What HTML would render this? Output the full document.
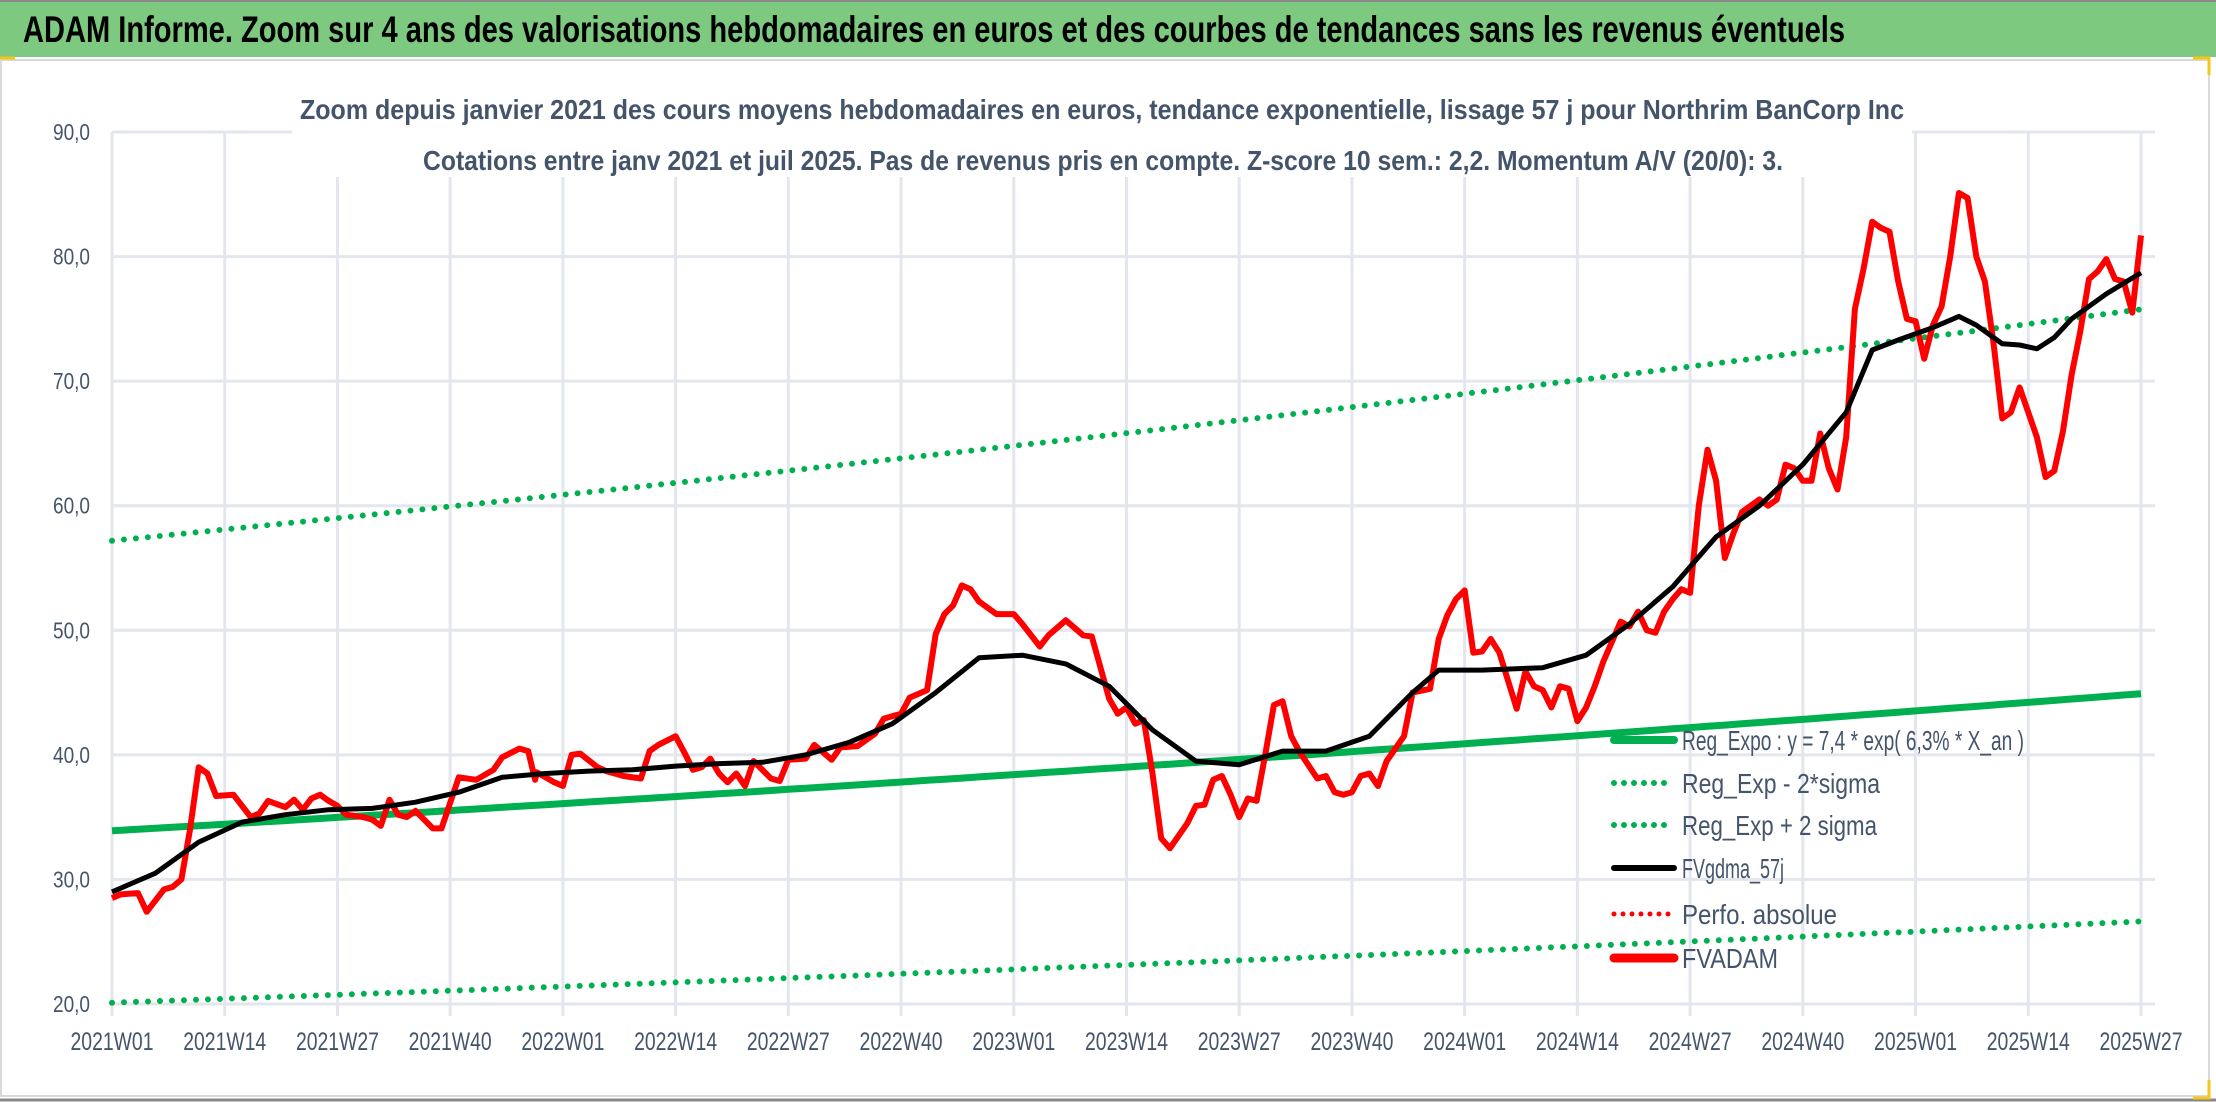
<!DOCTYPE html>
<html><head><meta charset="utf-8"><style>
html,body{margin:0;padding:0;background:#fff}
svg{display:block}
text{font-family:"Liberation Sans Narrow","Liberation Sans",sans-serif}
</style></head><body>
<svg id="chart" xmlns="http://www.w3.org/2000/svg" width="2216" height="1102" viewBox="0 0 2216 1102">
<rect x="0" y="0" width="2216" height="1102" fill="#fff"/>
<rect x="0" y="0" width="2216" height="57" fill="#7DC97F"/>
<rect x="1" y="60" width="2208" height="1036" fill="none" stroke="#d9d9d9" stroke-width="2"/>
<line x1="0" y1="1100" x2="2216" y2="1100" stroke="#888" stroke-width="3"/>
<line x1="0" y1="1" x2="2216" y2="1" stroke="#888" stroke-width="2"/>
<line x1="0" y1="58" x2="15" y2="58" stroke="#F5C518" stroke-width="3"/>
<path d="M2193 58 H2209 V75" fill="none" stroke="#F5C518" stroke-width="3"/>
<path d="M2193 1098 H2209 V1080" fill="none" stroke="#F5C518" stroke-width="3"/>
<text x="23" y="42" font-size="37" font-weight="bold" fill="#000" textLength="1822" lengthAdjust="spacingAndGlyphs">ADAM Informe. Zoom sur 4 ans des valorisations hebdomadaires en euros et des courbes de tendances sans les revenus éventuels</text>
<g id="grid"></g>
<g id="axes"></g>
<rect x="292" y="62" width="1620" height="115" fill="#fff"/>
<text x="1102" y="119" text-anchor="middle" font-size="28" font-weight="bold" fill="#44546A" textLength="1604" lengthAdjust="spacingAndGlyphs">Zoom depuis janvier 2021 des cours moyens hebdomadaires en euros, tendance exponentielle, lissage 57 j pour Northrim BanCorp Inc</text>
<text x="1103" y="170" text-anchor="middle" font-size="28" font-weight="bold" fill="#44546A" textLength="1360" lengthAdjust="spacingAndGlyphs">Cotations entre janv 2021 et juil 2025. Pas de revenus pris en compte. Z-score 10 sem.: 2,2. Momentum A/V (20/0): 3.</text>
<g id="series"></g>
<g id="legend"></g>
</svg>
<script>
const yTicks=[20,30,40,50,60,70,80,90];
const xLabels=["2021W01","2021W14","2021W27","2021W40","2022W01","2022W14","2022W27","2022W40","2023W01","2023W14","2023W27","2023W40","2024W01","2024W14","2024W27","2024W40","2025W01","2025W14","2025W27"];
const totalWeeks=234;
const regParams=[33.9,0.0625];
const bandFactors=[0.593,1.687];
const redWeeks=[0,1,3,4,6,7,8,9,10,11,12,14,16,17,18,20,21,22,23,24,25,26,27,29,30,31,32,33,34,35,37,38,40,42,44,45,47,48,48.8,49,51,52,53,54,56,57,59,61,62,63,65,66,67,68,69,70,71,72,73,74,76,77,78,80,81,83,84,86,88,89,91,92,94,95,96,97,98,99,100,102,103,104,105,107,108,110,111,112,113,115,116,117,118,119,120,121,122,124,125,126,127,128,129,130,131,132,133,134,135,136,137,139,140,141,142,143,144,145,146,147,149,150,152,153,154,155,156,157,158,159,160,162,163,164,165,166,167,168,169,170,171,172,174,175,176,177,178,179,180,181,182,183,184,185,186,187,188,190,191,192,193,194,195,196,197,198,199,200,201,202,203,204,205,206,207,208,209,210,211,212,213,214,215,216,217,218,219,220,222,223,224,225,226,227,228,229,230,231,232,233,234];
const redValues=[28.5,28.8,28.9,27.4,29.2,29.4,30,34,39,38.5,36.7,36.8,35,35.3,36.3,35.8,36.4,35.6,36.5,36.8,36.3,35.9,35.2,35,34.8,34.3,36.4,35.2,35,35.5,34.1,34.1,38.2,38,38.8,39.8,40.5,40.3,38,38.6,37.8,37.5,40,40.1,39,38.7,38.3,38.1,40.3,40.8,41.5,40.2,38.8,39,39.7,38.5,37.8,38.5,37.5,39.5,38.1,37.9,39.6,39.7,40.8,39.6,40.6,40.7,41.7,42.9,43.3,44.6,45.2,49.7,51.3,52,53.6,53.3,52.3,51.3,51.3,51.3,50.5,48.7,49.6,50.8,50.2,49.6,49.5,44.5,43.3,43.8,42.5,42.8,38.5,33.3,32.5,34.5,35.9,36,38,38.3,36.8,35,36.5,36.3,40,44,44.3,41.5,40.2,38.1,38.3,37,36.8,37,38.3,38.5,37.5,39.5,41.5,45,45.3,49.3,51.2,52.5,53.2,48.2,48.3,49.3,48.2,43.7,46.7,45.5,45.2,43.8,45.5,45.3,42.7,43.8,45.5,47.5,50.7,50.3,51.5,50,49.8,51.5,52.5,53.3,53,60,64.5,62,55.8,57.8,59.5,60.5,60,60.5,63.3,63,62,62,65.8,63,61.3,65.5,75.8,79,82.8,82.3,82,78,75,74.8,71.8,74.5,76,80,85.1,84.7,80,78,73,67,67.5,69.5,65.5,62.3,62.8,66,70.5,74,78.2,78.8,79.8,78.2,78,75.5,81.7];
const blackWeeks=[0,5,10,15,20,25,30,35,40,45,50,55,60,65,70,75,80,85,90,95,100,105,110,115,120,125,130,135,140,145,150,153,158,165,170,175,180,185,190,195,200,203,206,210,213,215,218,220,222,224,226,230,234];
const blackValues=[29,30.5,33,34.6,35.2,35.6,35.7,36.2,37,38.2,38.5,38.7,38.8,39.1,39.3,39.4,40,41,42.5,45,47.8,48,47.3,45.5,42,39.5,39.2,40.3,40.3,41.5,45,46.8,46.8,47,48,50.5,53.5,57.5,60,63.3,67.5,72.5,73.3,74.3,75.2,74.5,73,72.9,72.6,73.5,75,77,78.7];

const NS="http://www.w3.org/2000/svg";
const L=112,R=2141,T=132,B=1004;
const xs=w=>L+w*(R-L)/totalWeeks;
const ys=v=>B-(v-20)*(B-T)/70;
function mk(tag,attrs,parent){const e=document.createElementNS(NS,tag);for(const k in attrs)e.setAttribute(k,attrs[k]);parent.appendChild(e);return e;}
const grid=document.getElementById('grid'),axes=document.getElementById('axes'),series=document.getElementById('series'),legend=document.getElementById('legend');
yTicks.forEach(v=>{
 const l=mk('line',{x1:L,x2:R+14,y1:ys(v),y2:ys(v),stroke:'#E3E6EC','stroke-width':3},grid);
 
 
 const t=mk('text',{x:90,y:ys(v)+8,'text-anchor':'end','font-size':23,fill:'#44546A',textLength:37,lengthAdjust:'spacingAndGlyphs'},axes);
 t.textContent=v.toFixed(1).replace('.',',');
 
 
});
xLabels.forEach((s,i)=>{
 const x=xs(i*13);
 const l=mk('line',{x1:x,x2:x,y1:T,y2:B+12,stroke:'#E3E6EC','stroke-width':3},grid);
 
 
 const t=mk('text',{x:x,y:1050,'text-anchor':'middle','font-size':25,fill:'#44546A',textLength:83,lengthAdjust:'spacingAndGlyphs'},axes);
 t.textContent=s;
 
 
});
function reg(w,f){return regParams[0]*f*Math.exp(regParams[1]*w/52);}
function regPath(f){let d='';for(let w=0;w<=totalWeeks;w+=2){d+=(w?'L':'M')+xs(w).toFixed(1)+' '+ys(reg(w,f)).toFixed(1);}return d;}
const lo=mk('path',{d:regPath(bandFactors[0]),fill:'none',stroke:'#00B050','stroke-width':6,'stroke-linecap':'round','stroke-dasharray':'0 12'},series);


const hi=mk('path',{d:regPath(bandFactors[1]),fill:'none',stroke:'#00B050','stroke-width':6,'stroke-linecap':'round','stroke-dasharray':'0 12'},series);


const rg=mk('path',{d:regPath(1),fill:'none',stroke:'#00B050','stroke-width':7},series);


function linePath(ws,vs){return ws.map((w,i)=>(i?'L':'M')+xs(w).toFixed(1)+' '+ys(vs[i]).toFixed(1)).join('');}
const rd=mk('path',{d:linePath(redWeeks,redValues),fill:'none',stroke:'#FF0000','stroke-width':6,'stroke-linejoin':'round'},series);


const bk=mk('path',{d:linePath(blackWeeks,blackValues),fill:'none',stroke:'#000','stroke-width':5,'stroke-linejoin':'round'},series);


const leg=[["Reg_Expo : y = 7,4 * exp( 6,3% *  X_an )",'#00B050',8,null,'legend-reg-expo',342],["Reg_Exp - 2*sigma",'#00B050',6,'0 10','legend-reg-exp-minus',198],["Reg_Exp + 2 sigma",'#00B050',6,'0 10','legend-reg-exp-plus',195],["FVgdma_57j",'#000',6,null,'legend-fvgdma',102],["Perfo. absolue",'#FF0000',5,'0 9','legend-perfo-absolue',155],["FVADAM",'#FF0000',9,null,'legend-fvadam',96]];
const legY=[740,783,825,868,914,958];
leg.forEach((e,i)=>{
 const g=mk('g',{},legend);
 
 
 const a={x1:1614,x2:1674,y1:legY[i],y2:legY[i],stroke:e[1],'stroke-width':e[2],'stroke-linecap':'round'};
 if(e[3])a['stroke-dasharray']=e[3];
 mk('line',a,g);
 const t=mk('text',{x:1682,y:legY[i]+10,'font-size':28,fill:'#44546A',textLength:e[5],lengthAdjust:'spacingAndGlyphs'},g);
 t.textContent=e[0];
});
</script>
</body></html>
